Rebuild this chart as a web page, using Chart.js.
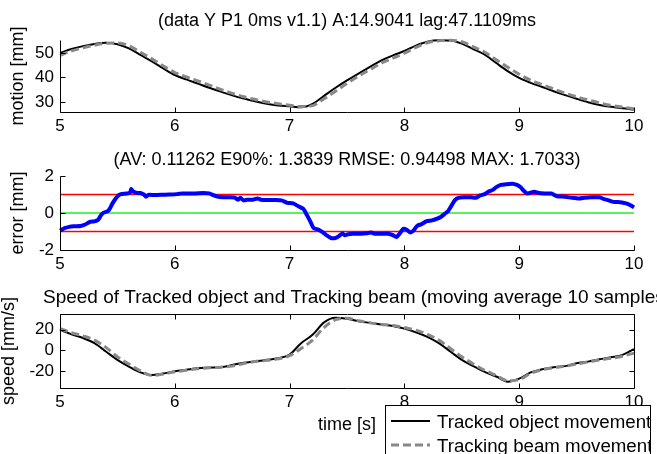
<!DOCTYPE html>
<html>
<head>
<meta charset="utf-8">
<title>Tracking</title>
<script src="https://cdn.jsdelivr.net/npm/chart.js@4.4.1/dist/chart.umd.min.js"></script>
<style>
html, body { margin: 0; padding: 0; background: #fff; }
#figure { position: relative; width: 657px; height: 454px; overflow: hidden; }
#figure canvas { position: absolute; left: 0; top: 0; }
</style>
</head>
<body>
<div id="figure">
  <canvas id="motionChart" width="657" height="454"></canvas>
  <canvas id="errorChart" width="657" height="454"></canvas>
  <canvas id="speedChart" width="657" height="454"></canvas>
</div>
<script>
var FONT = '"Liberation Sans", Arial, sans-serif';

var timeTicks = [5, 6, 7, 8, 9, 10];
var motionTicks = [30, 40, 50];
var errorTicks = [-2, 0, 2];
var speedTicks = [-20, 0, 20];
var errorBand = [-1, 1];

var sampleTimes = [5.0, 5.1, 5.2, 5.3, 5.4, 5.5, 5.6, 5.7, 5.8, 5.9,
    6.0, 6.1, 6.2, 6.3, 6.4, 6.5, 6.6, 6.7, 6.8, 6.9,
    7.0, 7.1, 7.2, 7.3, 7.4, 7.5, 7.6, 7.7, 7.8, 7.9,
    8.0, 8.1, 8.2, 8.3, 8.4, 8.5, 8.6, 8.7, 8.8, 8.9,
    9.0, 9.1, 9.2, 9.3, 9.4, 9.5, 9.6, 9.7, 9.8, 9.9, 10.0];

// position [mm]
var objectMotion = [50.0, 51.6, 52.8, 53.7, 54.2, 53.6, 51.9, 49.2, 46.6, 43.7,
    41.0, 39.2, 37.5, 35.8, 34.2, 32.7, 31.4, 30.3, 29.3, 28.6,
    28.2, 27.8, 29.2, 32.5, 35.8, 38.8, 41.6, 44.3, 47.0, 49.0,
    50.8, 53.0, 54.6, 55.2, 55.1, 53.8, 51.6, 49.3, 45.9, 42.6,
    39.8, 37.8, 36.1, 34.4, 32.8, 31.3, 29.9, 28.8, 28.0, 27.4, 26.9];
var beamMotion = [49.0, 50.8, 52.1, 53.2, 54.0, 54.1, 52.9, 50.3, 47.6, 44.7,
    42.0, 40.2, 38.6, 36.9, 35.1, 33.5, 32.1, 31.0, 30.0, 29.3,
    28.7, 28.1, 28.5, 31.3, 34.4, 37.6, 40.5, 43.2, 45.9, 47.9,
    49.9, 52.3, 54.2, 55.0, 55.2, 54.6, 52.5, 50.3, 47.2, 44.2,
    41.3, 38.9, 37.1, 35.3, 33.6, 32.1, 30.8, 29.6, 28.6, 27.9, 27.2];

// beam - object [mm]
var errorTimes = [5.00, 5.04, 5.08, 5.12, 5.18, 5.22, 5.26, 5.30, 5.33, 5.36,
    5.38, 5.41, 5.43, 5.46, 5.50, 5.53, 5.58, 5.61, 5.62, 5.64,
    5.67, 5.70, 5.73, 5.75, 5.77, 5.82, 5.88, 5.95, 6.02, 6.06,
    6.10, 6.18, 6.25, 6.30, 6.34, 6.38, 6.45, 6.52, 6.55, 6.57,
    6.60, 6.63, 6.68, 6.72, 6.75, 6.80, 6.88, 6.93, 6.98, 7.03,
    7.08, 7.12, 7.15, 7.18, 7.21, 7.25, 7.29, 7.32, 7.36, 7.40,
    7.43, 7.46, 7.48, 7.51, 7.55, 7.62, 7.67, 7.71, 7.74, 7.80,
    7.86, 7.90, 7.93, 7.96, 7.99, 8.02, 8.05, 8.08, 8.11, 8.15,
    8.19, 8.24, 8.28, 8.32, 8.35, 8.38, 8.41, 8.44, 8.47, 8.52,
    8.58, 8.62, 8.66, 8.70, 8.73, 8.77, 8.80, 8.84, 8.88, 8.94,
    8.98, 9.01, 9.04, 9.07, 9.10, 9.13, 9.17, 9.22, 9.28, 9.33,
    9.40, 9.46, 9.52, 9.57, 9.62, 9.70, 9.74, 9.78, 9.82, 9.88,
    9.93, 9.97, 10.00];
var errorValues = [-0.95, -0.82, -0.75, -0.72, -0.70, -0.62, -0.48, -0.45, -0.38, -0.10,
    0.02, 0.08, 0.20, 0.55, 0.90, 1.02, 1.05, 1.10, 1.30, 1.15,
    1.08, 1.08, 1.00, 0.88, 0.98, 0.97, 0.98, 1.00, 1.02, 1.06,
    1.05, 1.06, 1.08, 1.06, 0.95, 0.88, 0.85, 0.84, 0.72, 0.82,
    0.68, 0.72, 0.72, 0.78, 0.72, 0.70, 0.70, 0.68, 0.55, 0.52,
    0.35, 0.22, -0.10, -0.45, -0.82, -0.90, -1.05, -1.20, -1.35, -1.35,
    -1.25, -1.10, -1.20, -1.15, -1.12, -1.12, -1.10, -1.05, -1.12, -1.12,
    -1.12, -1.20, -1.30, -1.10, -0.85, -0.90, -1.05, -0.95, -0.70, -0.60,
    -0.45, -0.40, -0.32, -0.20, -0.05, 0.10, 0.40, 0.70, 0.82, 0.85,
    0.85, 0.82, 0.95, 1.02, 1.15, 1.25, 1.40, 1.52, 1.55, 1.58,
    1.52, 1.40, 1.20, 1.05, 1.10, 1.15, 1.08, 1.05, 1.05, 0.90,
    0.88, 0.82, 0.78, 0.82, 0.85, 0.85, 0.75, 0.68, 0.60, 0.58,
    0.52, 0.42, 0.30];

// speed [mm/s], moving average of 10 samples
var objectSpeed = [20, 15.5, 12, 7, -1, -9, -15.5, -21, -23.5, -22,
    -20, -18.5, -17, -16.5, -16, -14, -11.7, -10.5, -9, -7.5,
    -4, 7, 15, 27, 31.5, 30.5, 28, 26.5, 25, 23.5,
    21, 17.5, 13, 7, -1, -9, -15, -20.5, -25, -30,
    -27, -21, -18, -16, -15, -12.3, -10.7, -8.5, -6.5, -4.2, 1.3];
var beamSpeed = [21, 17, 14, 10, 3, -6, -13, -19.5, -24, -22.5,
    -20.5, -19, -17.5, -16.5, -16, -15, -12.5, -10.5, -9.5, -8,
    -5, 2, 10, 22, 29.5, 31, 28.5, 26.5, 25, 24,
    22, 19.5, 15.5, 10, 2, -6, -13, -19, -24, -29,
    -28, -22, -18.5, -16.5, -15, -13, -11, -9, -7.5, -5.5, -2.5];

var legendLabels = ['Tracked object movement', 'Tracking beam movement'];

function points(xs, ys) {
    return xs.map(function(x, i) { return { x: x, y: ys[i] }; });
}

function flatLine(value) {
    return [{ x: timeTicks[0], y: value }, { x: timeTicks[timeTicks.length - 1], y: value }];
}

// MATLAB-like axes: inward ticks, optional box, title, y label, legend
var matlabAxes = {
    id: 'matlabAxes',
    afterDraw: function(chart, args, opts) {
        var ctx = chart.ctx;
        var area = chart.chartArea;
        var xs = chart.scales.x, ys = chart.scales.y;
        var l = Math.floor(area.left) + 0.5, r = Math.floor(area.right) + 0.5;
        var t = Math.floor(area.top) + 0.5, b = Math.floor(area.bottom) + 0.5;

        ctx.save();
        ctx.strokeStyle = '#000';
        ctx.lineWidth = 1;
        ctx.beginPath();
        ctx.moveTo(l, t);
        ctx.lineTo(l, b);
        ctx.lineTo(r, b);
        if (opts.box) {
            ctx.lineTo(r, t);
            ctx.lineTo(l, t);
        }
        xs.ticks.forEach(function(tk) {
            var px = Math.round(xs.getPixelForValue(tk.value)) + 0.5;
            ctx.moveTo(px, b);
            ctx.lineTo(px, b - 5);
            if (opts.box) {
                ctx.moveTo(px, t);
                ctx.lineTo(px, t + 5);
            }
        });
        ys.ticks.forEach(function(tk) {
            var py = Math.round(ys.getPixelForValue(tk.value)) + 0.5;
            ctx.moveTo(l, py);
            ctx.lineTo(l + 5, py);
            if (opts.box) {
                ctx.moveTo(r, py);
                ctx.lineTo(r - 5, py);
            }
        });
        ctx.stroke();

        ctx.fillStyle = '#000';
        ctx.textBaseline = 'alphabetic';
        ctx.font = opts.titleSize + 'px ' + FONT;
        if (opts.titleX != null) {
            ctx.textAlign = 'left';
            ctx.fillText(opts.title, opts.titleX, opts.titleY);
        } else {
            ctx.textAlign = 'center';
            ctx.fillText(opts.title, (area.left + area.right) / 2, opts.titleY);
        }

        ctx.font = '18px ' + FONT;
        if (opts.xLabel) {
            ctx.textAlign = 'center';
            ctx.fillText(opts.xLabel, (area.left + area.right) / 2, opts.xLabelY);
        }
        ctx.save();
        ctx.translate(opts.yLabelX, (area.top + area.bottom) / 2);
        ctx.rotate(-Math.PI / 2);
        ctx.textAlign = 'center';
        ctx.fillText(opts.yLabel, 0, 0);
        ctx.restore();

        if (opts.legend) {
            var lg = opts.legend;
            ctx.fillStyle = '#fff';
            ctx.fillRect(lg.left, lg.top, lg.right - lg.left, 60);
            ctx.strokeStyle = '#000';
            ctx.lineWidth = 1;
            ctx.strokeRect(lg.left + 0.5, lg.top + 0.5, lg.right - lg.left, 60);
            ctx.save();
            ctx.beginPath();
            ctx.rect(lg.left, lg.top, lg.right - lg.left, 60);
            ctx.clip();
            ctx.font = lg.fontSize + 'px ' + FONT;
            legendLabels.forEach(function(label, i) {
                var ds = chart.data.datasets[lg.order[i]];
                var y = lg.rows[i];
                ctx.strokeStyle = ds.borderColor;
                ctx.lineWidth = ds.borderWidth;
                ctx.setLineDash(ds.borderDash || []);
                ctx.beginPath();
                ctx.moveTo(lg.left + 6, y);
                ctx.lineTo(lg.left + 45, y);
                ctx.stroke();
                ctx.setLineDash([]);
                ctx.fillStyle = '#000';
                ctx.textAlign = 'left';
                ctx.fillText(label, lg.textX, y + 6.5);
            });
            ctx.restore();
        }
        ctx.restore();
    }
};

function axesOptions(yMin, yMax, yTickValues, areaTop, areaBottom, axesOpts) {
    var tickFont = { family: FONT, size: 17 };
    return {
        responsive: false,
        animation: false,
        devicePixelRatio: 1,
        layout: { padding: { left: 0, right: 657 - 634, top: areaTop, bottom: 454 - areaBottom - 30 } },
        elements: { point: { radius: 0 } },
        plugins: {
            legend: { display: false },
            tooltip: { enabled: false },
            matlabAxes: axesOpts
        },
        scales: {
            x: {
                type: 'linear',
                min: 5,
                max: 10,
                grid: { display: false, drawTicks: false },
                border: { display: false },
                afterBuildTicks: function(scale) {
                    scale.ticks = timeTicks.map(function(v) { return { value: v }; });
                },
                afterFit: function(scale) { scale.height = 30; },
                ticks: {
                    color: '#000', font: tickFont, padding: 4, maxRotation: 0, autoSkip: false,
                    callback: function(v) { return String(v); }
                }
            },
            y: {
                type: 'linear',
                min: yMin,
                max: yMax,
                grid: { display: false, drawTicks: false },
                border: { display: false },
                afterBuildTicks: function(scale) {
                    scale.ticks = yTickValues.map(function(v) { return { value: v }; });
                },
                afterFit: function(scale) { scale.width = 60; },
                ticks: {
                    color: '#000', font: tickFont, padding: 6,
                    callback: function(v) { return String(v); }
                }
            }
        }
    };
}

function objectLine(data) {
    return { data: data, borderColor: '#000000', borderWidth: 2, cubicInterpolationMode: 'monotone', clip: 4, order: 1 };
}

function beamLine(data) {
    return { data: data, borderColor: '#888888', borderWidth: 3, borderDash: [8, 4], cubicInterpolationMode: 'monotone', clip: 4, order: 0 };
}

document.addEventListener('DOMContentLoaded', function() {
    new Chart(document.getElementById('motionChart'), {
        type: 'line',
        data: {
            datasets: [
                objectLine(points(sampleTimes, objectMotion)),
                beamLine(points(sampleTimes, beamMotion))
            ]
        },
        options: axesOptions(25.9, 55.3, motionTicks, 40, 112, {
            title: '(data Y P1 0ms v1.1) A:14.9041 lag:47.1109ms',
            titleSize: 18, titleY: 26,
            yLabel: 'motion [mm]', yLabelX: 23
        }),
        plugins: [matlabAxes]
    });

    new Chart(document.getElementById('errorChart'), {
        type: 'line',
        data: {
            datasets: [
                { data: flatLine(errorBand[1]), borderColor: '#ff0000', borderWidth: 1.5, order: 2 },
                { data: flatLine(0), borderColor: '#22ee22', borderWidth: 1.5, order: 2 },
                { data: flatLine(errorBand[0]), borderColor: '#ff0000', borderWidth: 1.5, order: 2 },
                { data: points(errorTimes, errorValues), borderColor: '#0000ff', borderWidth: 4, tension: 0.2, clip: 4, order: 0 }
            ]
        },
        options: axesOptions(-2, 2, errorTicks, 176, 250, {
            title: '(AV: 0.11262 E90%: 1.3839 RMSE: 0.94498 MAX: 1.7033)',
            titleSize: 18, titleY: 165,
            yLabel: 'error [mm]', yLabelX: 23
        }),
        plugins: [matlabAxes]
    });

    new Chart(document.getElementById('speedChart'), {
        type: 'line',
        data: {
            datasets: [
                objectLine(points(sampleTimes, objectSpeed)),
                beamLine(points(sampleTimes, beamSpeed))
            ]
        },
        options: axesOptions(-36, 35, speedTicks, 314, 388, {
            title: 'Speed of Tracked object and Tracking beam (moving average 10 samples)',
            titleSize: 19, titleX: 43, titleY: 303,
            yLabel: 'speed [mm/s]', yLabelX: 14,
            xLabel: 'time [s]', xLabelY: 430,
            box: true,
            legend: { left: 385, top: 405, right: 650, textX: 437, fontSize: 18.7, rows: [421, 445], order: [0, 1] }
        }),
        plugins: [matlabAxes]
    });
});
</script>
</body>
</html>
